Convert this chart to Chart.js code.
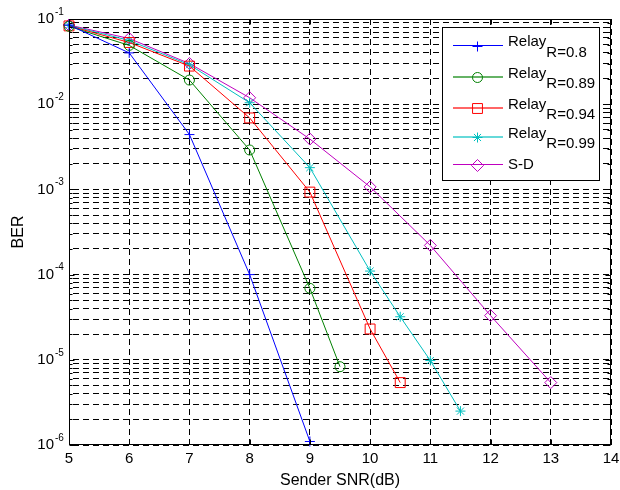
<!DOCTYPE html>
<html><head><meta charset="utf-8">
<script src="https://cdn.jsdelivr.net/npm/chart.js@4/dist/chart.umd.min.js"></script>
<style>html,body{margin:0;padding:0;background:#fff}#wrap{width:620px;height:490px;position:relative}</style>
</head><body><div id="wrap"><canvas id="c" width="620" height="490"></canvas></div>
<script>
// ---- data ----
const xR08  = [5, 6, 7, 8, 9];
const berR08  = [0.085, 0.040, 0.0044, 0.0001, 1.1e-6];
const xR089 = [5, 6, 7, 8, 9, 9.5];
const berR089 = [0.082, 0.049, 0.0192, 0.0029, 6.9e-5, 8.3e-6];
const xR094 = [5, 6, 7, 8, 9, 10, 10.5];
const berR094 = [0.083, 0.053, 0.028, 0.0069, 9.3e-4, 2.3e-5, 5.4e-6];
const xR099 = [5, 6, 7, 8, 9, 10, 10.5, 11, 11.5];
const berR099 = [0.084, 0.056, 0.029, 0.0104, 0.0018, 1.1e-4, 3.2e-5, 9.8e-6, 2.5e-6];
const xSD   = [5, 6, 7, 8, 9, 10, 11, 12, 13];
const berSD   = [0.085, 0.059, 0.030, 0.0119, 0.0039, 0.00107, 2.2e-4, 3.3e-5, 5.4e-6];

const seriesNames = ['Relay', 'Relay', 'Relay', 'Relay', 'S-D'];
const seriesSubs  = ['R=0.8', 'R=0.89', 'R=0.94', 'R=0.99', ''];
const xTickLabels = ['5','6','7','8','9','10','11','12','13','14'];
const yTickExps   = ['-1','-2','-3','-4','-5','-6'];
const xTitle = 'Sender SNR(dB)';
const yTitle = 'BER';

const FONT = '"Liberation Sans", Arial, Helvetica, sans-serif';
const pts = (xs, ys) => xs.map((x, i) => ({x: x, y: ys[i]}));

// minor + major log grid values
const yGridValues = [];
for (let e = -6; e <= -1; e++) {
  for (let m = 1; m <= 9; m++) {
    const v = m * Math.pow(10, e);
    if (v <= 0.1 + 1e-12) yGridValues.push(+v.toPrecision(3));
  }
}

function ds(label, xs, ys, color, style, radius) {
  return {
    label: label, data: pts(xs, ys), borderColor: color, backgroundColor: 'rgba(0,0,0,0)',
    borderWidth: 1, pointStyle: style, pointRadius: radius, pointBorderWidth: 1,
    pointBorderColor: color, pointBackgroundColor: 'rgba(0,0,0,0)', pointHoverRadius: radius,
    tension: 0, clip: false, fill: false
  };
}

const datasets = [
  ds('Relay R=0.8',  xR08,  berR08,  '#0000ff', 'cross', 5),
  ds('Relay R=0.89', xR089, berR089, '#008000', 'circle', 5),
  ds('Relay R=0.94', xR094, berR094, '#ff0000', 'rect', 7),
  ds('Relay R=0.99', xR099, berR099, '#00bfbf', 'star', 5),
  ds('S-D',          xSD,   berSD,   '#bf00bf', 'rectRot', 6)
];

const decor = {
  id: 'decor',
  afterDraw(chart) {
    const ctx = chart.ctx, ca = chart.chartArea;
    const xs = chart.scales.x, ys = chart.scales.y;
    ctx.save();
    // box
    ctx.strokeStyle = '#000'; ctx.lineWidth = 1; ctx.setLineDash([]);
    const L = Math.round(ca.left) + 0.5, R = Math.round(ca.right) - 0.5;
    const T = Math.round(ca.top) + 0.5, B = Math.round(ca.bottom) - 0.5;
    ctx.strokeRect(L, T, R - L, B - T);
    // tick marks
    ctx.beginPath();
    xTickLabels.forEach(t => {
      const px = Math.round(xs.getPixelForValue(+t)) + 0.5;
      ctx.moveTo(px, B); ctx.lineTo(px, B - 5);
      ctx.moveTo(px, T); ctx.lineTo(px, T + 5);
    });
    yGridValues.forEach(v => {
      const py = Math.round(ys.getPixelForValue(v)) + 0.5;
      const major = Math.abs(Math.log10(v) - Math.round(Math.log10(v))) < 1e-6;
      const len = major ? 5 : 3;
      ctx.moveTo(L, py); ctx.lineTo(L + len, py);
      ctx.moveTo(R, py); ctx.lineTo(R - len, py);
    });
    ctx.stroke();
    // x tick labels
    ctx.fillStyle = '#000';
    ctx.font = '15px ' + FONT; ctx.textAlign = 'center'; ctx.textBaseline = 'middle';
    xTickLabels.forEach(t => ctx.fillText(t, xs.getPixelForValue(+t), 459));
    // y tick labels with superscripts
    yTickExps.forEach(e => {
      const py = ys.getPixelForValue(Math.pow(10, +e));
      ctx.font = '15px ' + FONT; ctx.textAlign = 'right'; ctx.textBaseline = 'middle';
      ctx.fillText('10', 54, py);
      ctx.font = '10px ' + FONT; ctx.textAlign = 'left';
      ctx.fillText(e, 55, py - 7);
    });
    // axis titles
    ctx.font = '16px ' + FONT; ctx.textAlign = 'center'; ctx.textBaseline = 'middle';
    ctx.fillText(xTitle, (ca.left + ca.right) / 2, 481);
    ctx.save(); ctx.translate(19, (ca.top + ca.bottom) / 2); ctx.rotate(-Math.PI / 2);
    ctx.fillText(yTitle, 0, 0); ctx.restore();
    // legend
    const bx = 442.5, by = 27.5, bw = 157, bh = 153;
    ctx.fillStyle = '#fff'; ctx.fillRect(bx, by, bw, bh);
    ctx.strokeStyle = '#000'; ctx.lineWidth = 1; ctx.strokeRect(bx, by, bw, bh);
    const rowsY = [45.5, 77, 108, 137, 164.5];
    chart.data.datasets.forEach((d, i) => {
      const y = rowsY[i];
      ctx.save();
      const pale = (i >= 1 && i <= 3);
      ctx.globalAlpha = pale ? 0.6 : 1;
      ctx.strokeStyle = d.borderColor; ctx.lineWidth = pale ? 2 : 1;
      ctx.beginPath(); ctx.moveTo(453, y); ctx.lineTo(503, y); ctx.stroke();
      ctx.restore();
      ctx.strokeStyle = d.borderColor; ctx.lineWidth = 1;
      ctx.fillStyle = 'rgba(0,0,0,0)';
      Chart.helpers.drawPoint(ctx, {pointStyle: d.pointStyle, radius: d.pointRadius, borderWidth: 1, rotation: 0}, 477.5, Math.round(y) + 0.5);
      ctx.fillStyle = '#000'; ctx.textAlign = 'left'; ctx.textBaseline = 'middle';
      ctx.font = '15px ' + FONT;
      if (seriesSubs[i]) {
        ctx.fillText(seriesNames[i], 508, y - 3.5);
        const w = ctx.measureText(seriesNames[i]).width;
        ctx.fillText(seriesSubs[i], 508 + w, y + 7);
      } else {
        ctx.fillText(seriesNames[i], 508, y);
      }
    });
    ctx.restore();
  }
};

new Chart(document.getElementById('c'), {
  type: 'line',
  data: { datasets: datasets },
  options: {
    responsive: false, animation: false, devicePixelRatio: 1,
    layout: { padding: { left: 69, top: 19, right: 9, bottom: 45 } },
    plugins: { legend: { display: false }, tooltip: { enabled: false } },
    elements: { line: { tension: 0 } },
    scales: {
      x: {
        type: 'linear', min: 5, max: 14,
        ticks: { display: false, stepSize: 1 },
        grid: { color: '#000', lineWidth: 1, drawTicks: false },
        border: { display: false, dash: [6, 4] }
      },
      y: {
        type: 'logarithmic', min: 1e-6, max: 1e-1,
        afterBuildTicks: (s) => { s.ticks = yGridValues.map(v => ({ value: v })); },
        ticks: { display: false },
        grid: { color: '#000', lineWidth: 1, drawTicks: false },
        border: { display: false, dash: [6, 4], dashOffset: 6 }
      }
    }
  },
  plugins: [decor]
});
</script>
</body></html>
